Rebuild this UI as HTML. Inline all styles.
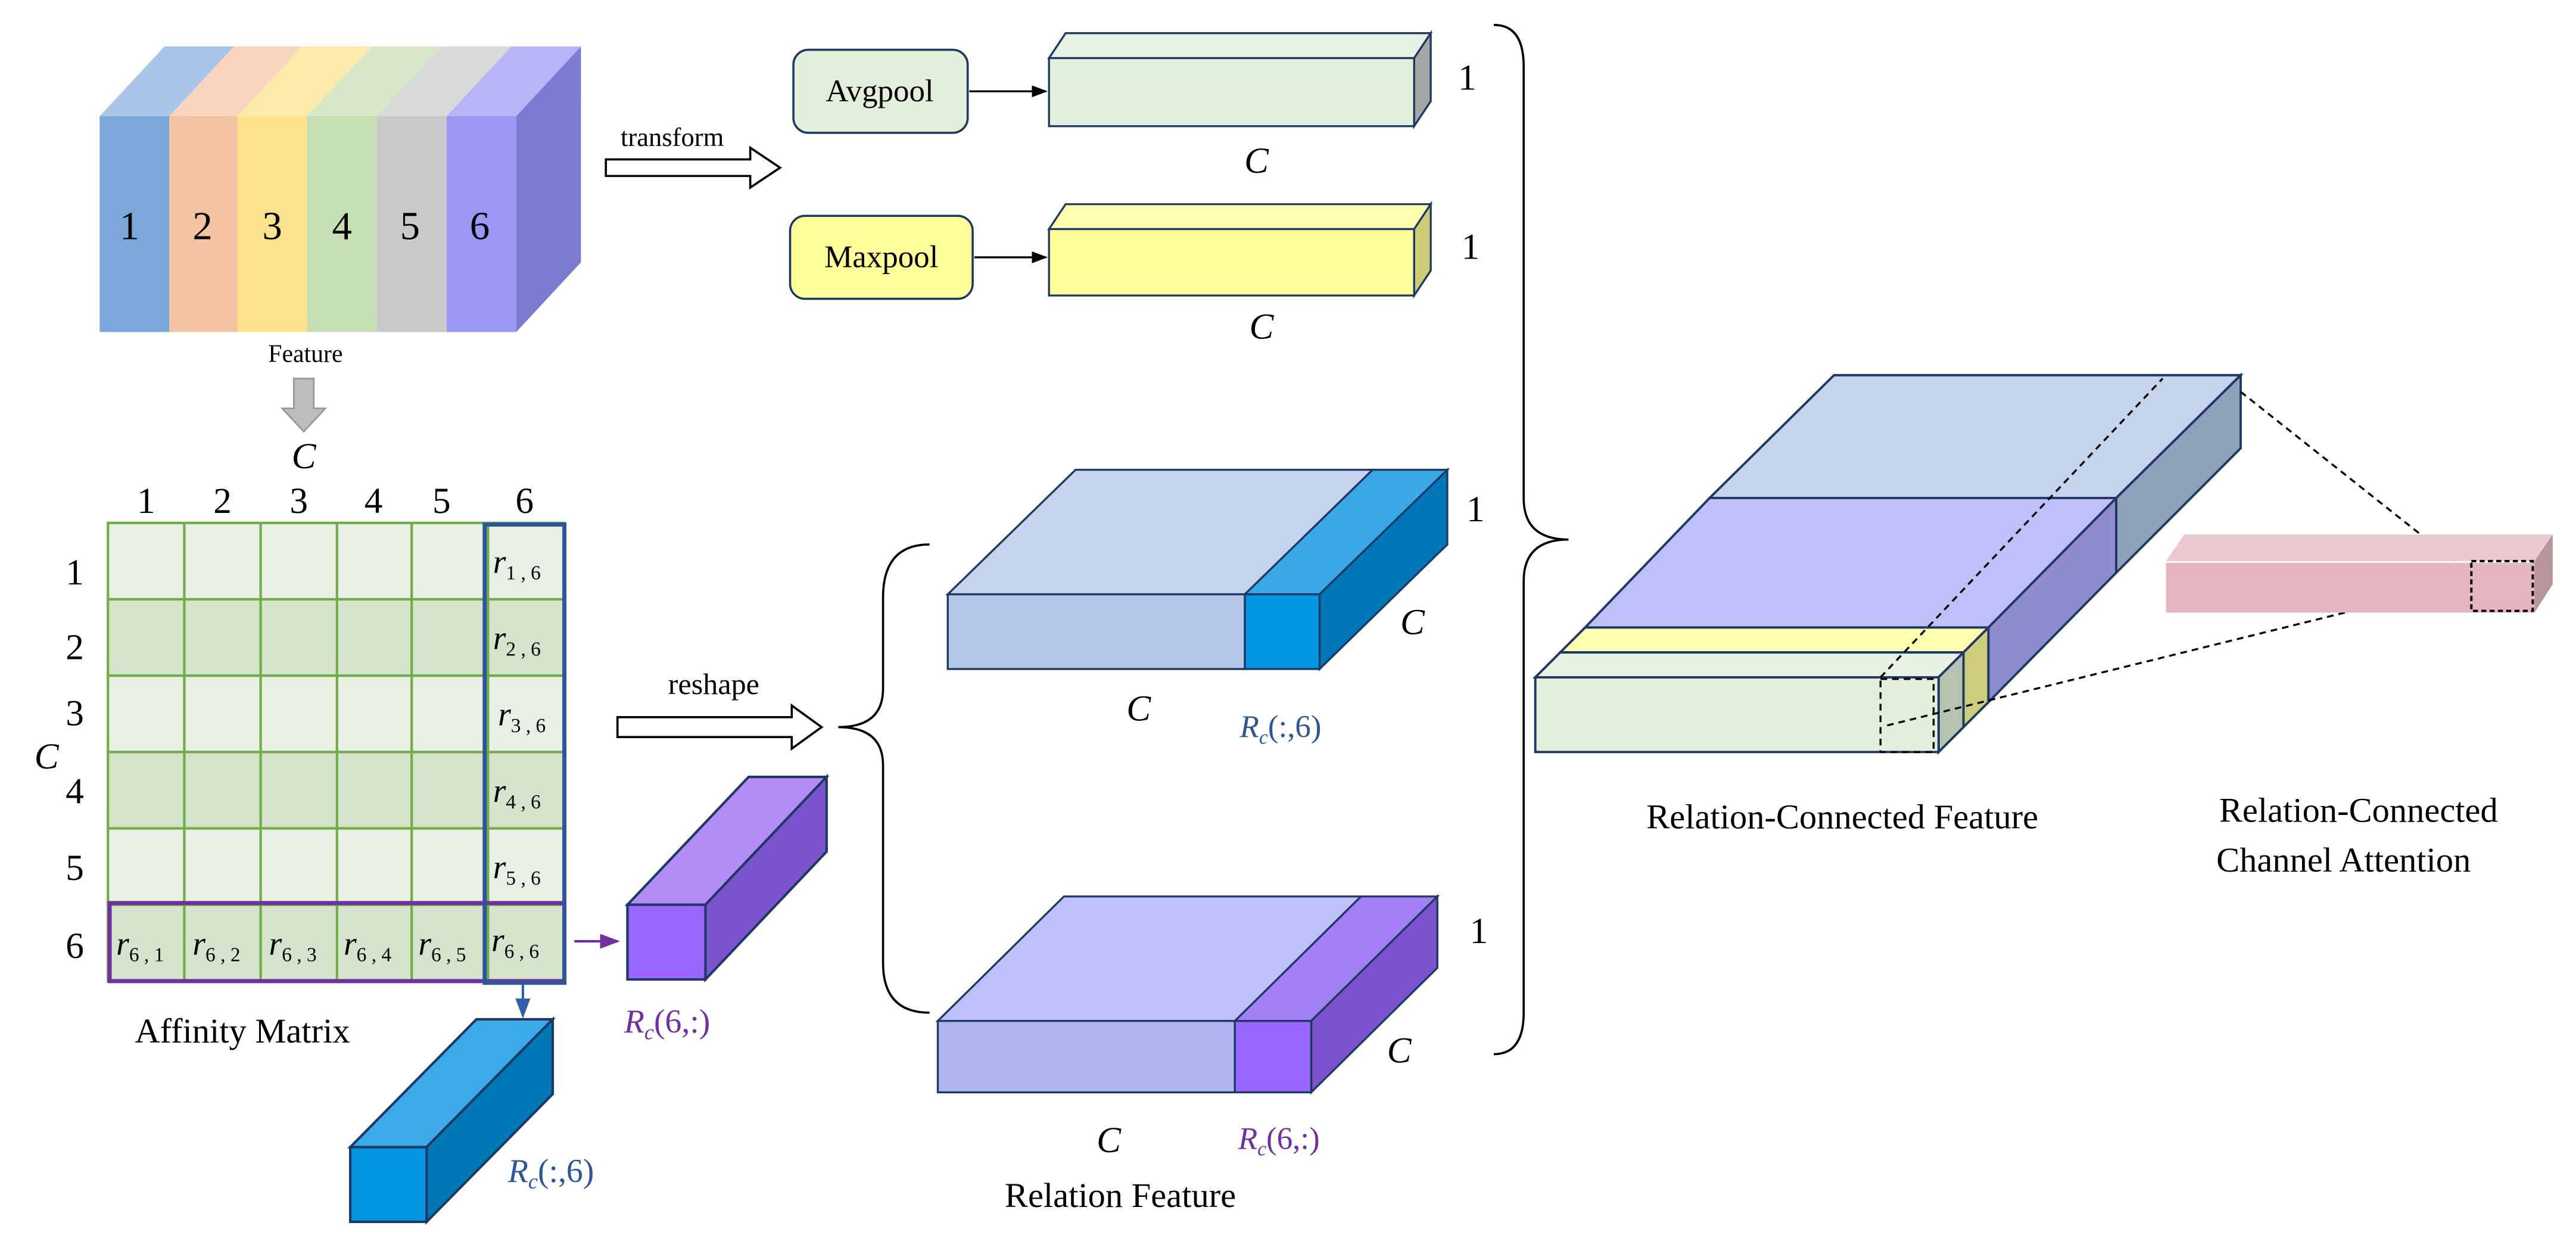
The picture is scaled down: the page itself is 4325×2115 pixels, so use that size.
<!DOCTYPE html>
<html><head><meta charset="utf-8"><style>
html,body{margin:0;padding:0;background:#fff;}
svg{display:block;}
text{font-family:"Liberation Serif",serif;}
.it{font-style:italic;}
</style></head><body>
<svg width="4325" height="2115" viewBox="0 0 1552 759" xmlns="http://www.w3.org/2000/svg">
<defs>
<marker id="ab" markerWidth="8" markerHeight="8" refX="7" refY="4" orient="auto"><path d="M0,1 L8,4 L0,7z" fill="#000"/></marker>
<marker id="abl" markerWidth="8" markerHeight="8" refX="7" refY="4" orient="auto"><path d="M0,1 L8,4 L0,7z" fill="#2e5fa8"/></marker>
<marker id="apu" markerWidth="8" markerHeight="8" refX="7" refY="4" orient="auto"><path d="M0,1 L8,4 L0,7z" fill="#7030a0"/></marker>
</defs>
<rect width="1552" height="759" fill="#fff"/>

<!-- Feature cube -->
<g stroke="none">
<polygon points="60,70 102,70 141,28 99,28" fill="#a9c5e8"/>
<polygon points="102,70 143,70 182,28 141,28" fill="#f8d5bf"/>
<polygon points="143,70 185,70 224,28 182,28" fill="#fdeaa9"/>
<polygon points="185,70 227,70 266,28 224,28" fill="#d6e8c8"/>
<polygon points="227,70 269,70 308,28 266,28" fill="#d9d9d9"/>
<polygon points="269,70 311,70 350,28 308,28" fill="#b7b5f8"/>
<rect x="60" y="70" width="42" height="130" fill="#7ba7d9"/>
<rect x="102" y="70" width="41" height="130" fill="#f4c3a3"/>
<rect x="143" y="70" width="42" height="130" fill="#fde28e"/>
<rect x="185" y="70" width="42" height="130" fill="#c5dfb2"/>
<rect x="227" y="70" width="42" height="130" fill="#c9c9c9"/>
<rect x="269" y="70" width="42" height="130" fill="#9b98f5"/>
<polygon points="311,70 350,28 350,158 311,200" fill="#7b7bd0"/>
</g>
<g font-size="24" text-anchor="middle">
<text x="78" y="144">1</text><text x="122" y="144">2</text><text x="164" y="144">3</text>
<text x="206" y="144">4</text><text x="247" y="144">5</text><text x="289" y="144">6</text>
</g>
<text x="184" y="218" font-size="15" text-anchor="middle">Feature</text>
<polygon points="177,228 189,228 189,246 196,246 183,260 170,246 177,246" fill="#bdbdbd" stroke="#999" stroke-width="1"/>
<text x="183" y="282" font-size="22" text-anchor="middle" class="it">C</text>

<!-- Matrix -->
<g>
<rect x="65" y="315" width="275" height="46" fill="#e9efe5"/>
<rect x="65" y="361" width="275" height="46" fill="#d5e3cc"/>
<rect x="65" y="407" width="275" height="46" fill="#e9efe5"/>
<rect x="65" y="453" width="275" height="46" fill="#d5e3cc"/>
<rect x="65" y="499" width="275" height="46" fill="#e9efe5"/>
<rect x="65" y="545" width="275" height="46" fill="#d5e3cc"/>
<g stroke="#70ad47" stroke-width="1.5" fill="none">
<rect x="65" y="315" width="275" height="276"/>
<line x1="111" y1="315" x2="111" y2="591"/><line x1="157" y1="315" x2="157" y2="591"/>
<line x1="203" y1="315" x2="203" y2="591"/><line x1="248" y1="315" x2="248" y2="591"/>
<line x1="294" y1="315" x2="294" y2="591"/>
<line x1="65" y1="361" x2="340" y2="361"/><line x1="65" y1="407" x2="340" y2="407"/>
<line x1="65" y1="453" x2="340" y2="453"/><line x1="65" y1="499" x2="340" y2="499"/>
<line x1="65" y1="545" x2="340" y2="545"/>
</g>
<rect x="66" y="544" width="274" height="47" fill="none" stroke="#7030a0" stroke-width="2.5"/>
<rect x="292" y="316" width="48" height="276" fill="none" stroke="#2e5597" stroke-width="2.5"/>
</g>
<g font-size="22" text-anchor="middle">
<text x="88" y="309">1</text><text x="134" y="309">2</text><text x="180" y="309">3</text>
<text x="225" y="309">4</text><text x="266" y="309">5</text><text x="316" y="309">6</text>
<text x="45" y="352">1</text><text x="45" y="397">2</text><text x="45" y="437">3</text>
<text x="45" y="484">4</text><text x="45" y="530">5</text><text x="45" y="577">6</text>
</g>
<text x="28" y="463" font-size="22" text-anchor="middle" class="it">C</text>
<g font-size="20" class="it">
<text x="297" y="345">r<tspan font-size="12" font-style="normal" dy="4">1 , 6</tspan></text>
<text x="297" y="391">r<tspan font-size="12" font-style="normal" dy="4">2 , 6</tspan></text>
<text x="300" y="437">r<tspan font-size="12" font-style="normal" dy="4">3 , 6</tspan></text>
<text x="297" y="483">r<tspan font-size="12" font-style="normal" dy="4">4 , 6</tspan></text>
<text x="297" y="529">r<tspan font-size="12" font-style="normal" dy="4">5 , 6</tspan></text>
<text x="296" y="573">r<tspan font-size="12" font-style="normal" dy="4">6 , 6</tspan></text>
<text x="70" y="575">r<tspan font-size="12" font-style="normal" dy="4">6 , 1</tspan></text>
<text x="116" y="575">r<tspan font-size="12" font-style="normal" dy="4">6 , 2</tspan></text>
<text x="162" y="575">r<tspan font-size="12" font-style="normal" dy="4">6 , 3</tspan></text>
<text x="207" y="575">r<tspan font-size="12" font-style="normal" dy="4">6 , 4</tspan></text>
<text x="252" y="575">r<tspan font-size="12" font-style="normal" dy="4">6 , 5</tspan></text>
</g>
<text x="146" y="628" font-size="21" text-anchor="middle">Affinity Matrix</text>

<!-- blue bar -->
<line x1="315" y1="593" x2="315" y2="612" stroke="#2e5fa8" stroke-width="1.5" marker-end="url(#abl)"/>
<g stroke="#1f3864" stroke-width="1.5">
<polygon points="211,691 257,691 333,614 287,614" fill="#3aaae8"/>
<polygon points="257,691 333,614 333,659 257,736" fill="#0077b6"/>
<rect x="211" y="691" width="46" height="45" fill="#0096e0"/>
</g>
<text x="306" y="712" font-size="20" fill="#2e5597"><tspan class="it">R<tspan font-size="13" dy="4">c</tspan></tspan><tspan dy="-4">(:,6)</tspan></text>

<!-- purple bar -->
<line x1="346" y1="567" x2="372" y2="567" stroke="#7030a0" stroke-width="1.5" marker-end="url(#apu)"/>
<g stroke="#1f3864" stroke-width="1.5">
<polygon points="378,545 425,545 498,468 451,468" fill="#b38cf5"/>
<polygon points="425,545 498,468 498,513 425,590" fill="#7b53cc"/>
<rect x="378" y="545" width="47" height="45" fill="#9966ff"/>
</g>
<text x="376" y="622" font-size="20" fill="#7030a0"><tspan class="it">R<tspan font-size="13" dy="4">c</tspan></tspan><tspan dy="-4">(6,:)</tspan></text>

<!-- transform arrow -->
<text x="405" y="88" font-size="16" text-anchor="middle">transform</text>
<polygon points="365,96 452,96 452,89 470,101 452,113 452,106 365,106" fill="#fff" stroke="#000" stroke-width="1.3"/>

<!-- Avgpool -->
<rect x="478" y="30" width="105" height="50" rx="9" fill="#e2efda" stroke="#1f3864" stroke-width="1.3"/>
<text x="530" y="61" font-size="19" text-anchor="middle">Avgpool</text>
<line x1="584" y1="55" x2="630" y2="55" stroke="#000" stroke-width="1.2" marker-end="url(#ab)"/>
<g stroke="#1f3864" stroke-width="1.2">
<polygon points="632,35 852,35 862,20 642,20" fill="#e9f3e3"/>
<polygon points="852,35 862,20 862,61 852,76" fill="#a5a5a5"/>
<rect x="632" y="35" width="220" height="41" fill="#e2efda"/>
</g>
<text x="884" y="54" font-size="22" text-anchor="middle">1</text>
<text x="757" y="104" font-size="22" text-anchor="middle" class="it">C</text>

<!-- Maxpool -->
<rect x="476" y="130" width="110" height="50" rx="9" fill="#ffff99" stroke="#1f3864" stroke-width="1.3"/>
<text x="531" y="161" font-size="19" text-anchor="middle">Maxpool</text>
<line x1="587" y1="155" x2="630" y2="155" stroke="#000" stroke-width="1.2" marker-end="url(#ab)"/>
<g stroke="#1f3864" stroke-width="1.2">
<polygon points="632,138 852,138 862,123 642,123" fill="#ffffb0"/>
<polygon points="852,138 862,123 862,163 852,178" fill="#cccc77"/>
<rect x="632" y="138" width="220" height="40" fill="#ffff99"/>
</g>
<text x="886" y="156" font-size="22" text-anchor="middle">1</text>
<text x="760" y="204" font-size="22" text-anchor="middle" class="it">C</text>

<!-- reshape -->
<text x="430" y="418" font-size="18" text-anchor="middle">reshape</text>
<polygon points="372,432 477,432 477,425 495,438 477,451 477,444 372,444" fill="#fff" stroke="#000" stroke-width="1.3"/>
<path d="M560,328 Q532,328 532,360 L532,415 Q532,438 505,438 Q532,438 532,461 L532,580 Q532,610 560,610" fill="none" stroke="#000" stroke-width="1.3"/>

<!-- Relation block 1 -->
<g stroke="#1f3864" stroke-width="1.2">
<polygon points="571,358 750,358 827,283 648,283" fill="#c5d3ec"/>
<polygon points="750,358 795,358 872,283 827,283" fill="#3aa8e6"/>
<polygon points="795,358 872,283 872,328 795,403" fill="#0077b6"/>
<rect x="571" y="358" width="179" height="45" fill="#b4c7e7"/>
<rect x="750" y="358" width="45" height="45" fill="#0096e0"/>
</g>
<text x="889" y="314" font-size="22" text-anchor="middle">1</text>
<text x="851" y="382" font-size="22" text-anchor="middle" class="it">C</text>
<text x="686" y="434" font-size="22" text-anchor="middle" class="it">C</text>
<text x="747" y="444" font-size="19" fill="#2e5597"><tspan class="it">R<tspan font-size="12" dy="4">c</tspan></tspan><tspan dy="-4">(:,6)</tspan></text>

<!-- Relation block 2 -->
<g stroke="#1f3864" stroke-width="1.2">
<polygon points="565,615 744,615 820,540 641,540" fill="#c0c0fc"/>
<polygon points="744,615 790,615 866,540 820,540" fill="#a27ff5"/>
<polygon points="790,615 866,540 866,583 790,658" fill="#7b53cc"/>
<rect x="565" y="615" width="179" height="43" fill="#b0b4f0"/>
<rect x="744" y="615" width="46" height="43" fill="#9966ff"/>
</g>
<text x="891" y="568" font-size="22" text-anchor="middle">1</text>
<text x="843" y="640" font-size="22" text-anchor="middle" class="it">C</text>
<text x="668" y="694" font-size="22" text-anchor="middle" class="it">C</text>
<text x="746" y="692" font-size="19" fill="#7030a0"><tspan class="it">R<tspan font-size="12" dy="4">c</tspan></tspan><tspan dy="-4">(6,:)</tspan></text>
<text x="675" y="727" font-size="21" text-anchor="middle">Relation Feature</text>

<!-- big brace -->
<path d="M900,15 Q918,15 918,40 L918,300 Q918,325 945,325 Q918,325 918,350 L918,610 Q918,635 900,635" fill="none" stroke="#000" stroke-width="1.3"/>

<!-- Relation-Connected Feature -->
<g stroke="#1f3864" stroke-width="1.4">
<polygon points="1030,300 1275,300 1350,226 1105,226" fill="#c5d3ec"/>
<polygon points="1275,300 1350,226 1350,270 1275,345" fill="#8fa2bc"/>
<polygon points="955,378 1198,378 1275,300 1030,300" fill="#bfbffc"/>
<polygon points="1198,378 1275,300 1275,345 1198,423" fill="#8e8ccc"/>
<polygon points="940,393 1183,393 1198,378 955,378" fill="#ffffb0"/>
<polygon points="925,408 1168,408 1183,393 940,393" fill="#e9f3e3"/>
<polygon points="1168,408 1198,378 1198,423 1168,453" fill="#cdcd7c"/>
<polygon points="1168,408 1183,393 1183,438 1168,453" fill="#b8c2b0"/>
<rect x="925" y="408" width="243" height="45" fill="#e2efda"/>
</g>
<g stroke="#000" stroke-width="1.2" stroke-dasharray="4,3" fill="none">
<rect x="1133" y="409" width="32" height="44"/>
<line x1="1133" y1="408" x2="1303" y2="228"/>
<line x1="1350" y1="236" x2="1490" y2="347"/>
<line x1="1137" y1="437" x2="1490" y2="350"/>
</g>

<!-- pink bar -->
<g stroke="none">
<polygon points="1305,338 1527,338 1538,322 1316,322" fill="#ecc8cf"/>
<polygon points="1527,338 1538,322 1538,352 1527,369" fill="#b8959c"/>
<rect x="1305" y="339" width="222" height="30" fill="#e4b5bf"/>
<line x1="1305" y1="338.5" x2="1527" y2="338.5" stroke="#fff" stroke-width="1"/>
</g>
<rect x="1489" y="338" width="37" height="30" fill="none" stroke="#000" stroke-width="1.4" stroke-dasharray="3,2"/>

<text x="1110" y="499" font-size="21" text-anchor="middle">Relation-Connected Feature</text>
<text x="1421" y="495" font-size="21" text-anchor="middle">Relation-Connected</text>
<text x="1412" y="525" font-size="21" text-anchor="middle">Channel Attention</text>
</svg>
</body></html>
